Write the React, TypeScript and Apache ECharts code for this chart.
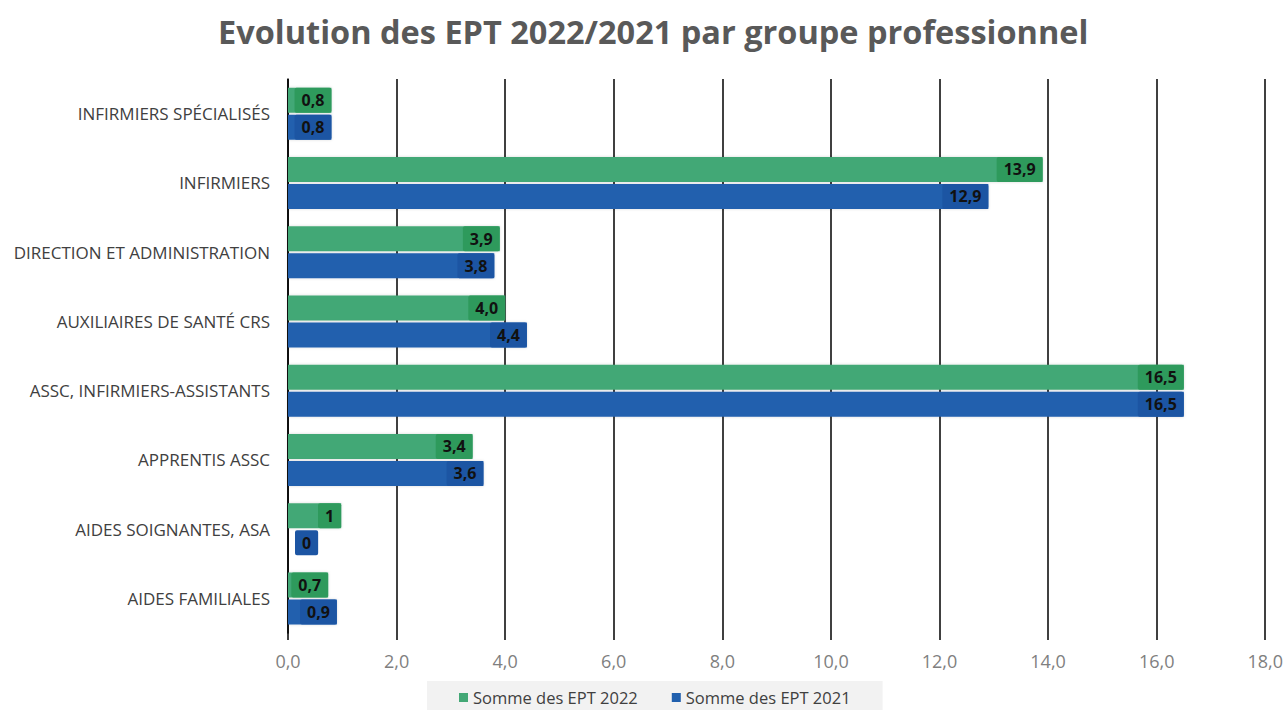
import React, { useEffect, useRef } from "react";
import * as echarts from "echarts";

const categories = [
  "INFIRMIERS SPÉCIALISÉS",
  "INFIRMIERS",
  "DIRECTION ET ADMINISTRATION",
  "AUXILIAIRES DE SANTÉ CRS",
  "ASSC, INFIRMIERS-ASSISTANTS",
  "APPRENTIS ASSC",
  "AIDES SOIGNANTES, ASA",
  "AIDES FAMILIALES",
];
const values2022 = [0.8, 13.9, 3.9, 4.0, 16.5, 3.4, 0.98, 0.74];
const labels2022 = ["0,8", "13,9", "3,9", "4,0", "16,5", "3,4", "1", "0,7"];
const values2021 = [0.8, 12.9, 3.8, 4.4, 16.5, 3.6, 0, 0.9];
const labels2021 = ["0,8", "12,9", "3,8", "4,4", "16,5", "3,6", "0", "0,9"];
const seriesNames = ["Somme des EPT 2022", "Somme des EPT 2021"];
const xTicks = { min: 0, max: 18, interval: 2 };

const FONT = "'Open Sans', sans-serif";

function makeSeries(name: string, vals: number[], labels: string[], color: string, labelBg: string) {
  return {
    name,
    type: "bar",
    barWidth: 25,
    barGap: "8%",
    data: vals.map((v, i) => ({
      value: v,
      label: {
        show: true,
        position: v === 0 ? "right" : "insideRight",
        distance: v === 0 ? 7 : 0,
        formatter: labels[i],
        backgroundColor: labelBg,
        color: "#111",
        fontFamily: FONT,
        fontSize: 16,
        fontWeight: "bold",
        lineHeight: 17,
        padding: [4, 7, 4, 7],
        borderRadius: 2,
      },
    })),
    itemStyle: { color, shadowColor: "rgba(0,0,0,0.15)", shadowBlur: 3 },
  };
}

export default function App() {
  const ref = useRef<HTMLDivElement>(null);
  useEffect(() => {
    if (!ref.current) return;
    const chart = echarts.init(ref.current, undefined, { renderer: "svg" });
    chart.setOption({
      animation: false,
      backgroundColor: "#ffffff",
      title: {
        text: "Evolution des EPT 2022/2021 par groupe professionnel",
        left: 213,
        top: 10,
        textStyle: { fontFamily: FONT, fontSize: 32.5, fontWeight: "bold", color: "#595959" },
      },
      legend: {
        top: 681,
        left: 427,
        data: seriesNames,
        icon: "rect",
        itemWidth: 9,
        itemHeight: 9,
        itemGap: 34,
        backgroundColor: "#f2f2f2",
        padding: [8, 32, 6, 32],
        textStyle: { fontFamily: FONT, fontSize: 16.5, color: "#404040" },
      },
      grid: { left: 288, right: 20, top: 79, bottom: 77 },
      xAxis: {
        type: "value",
        min: xTicks.min,
        max: xTicks.max,
        interval: xTicks.interval,
        axisLine: { show: false },
        axisTick: { show: true, length: 7, lineStyle: { color: "#000", width: 1.5 } },
        splitLine: { show: true, lineStyle: { color: "#000", width: 1.5 } },
        axisLabel: {
          margin: 19,
          fontFamily: FONT,
          fontSize: 18,
          color: "#7f7f7f",
          formatter: (v: number) => v.toFixed(1).replace(".", ","),
        },
      },
      yAxis: {
        type: "category",
        data: categories,
        inverse: true,
        axisLine: { show: true, lineStyle: { color: "#000", width: 1.5 } },
        axisTick: { show: false },
        axisLabel: { margin: 18, fontFamily: FONT, fontSize: 17, color: "#404040" },
      },
      series: [
        makeSeries(seriesNames[0], values2022, labels2022, "#43a876", "#2e9a5c"),
        makeSeries(seriesNames[1], values2021, labels2021, "#2160ae", "#1c55a3"),
      ],
    });
    return () => chart.dispose();
  }, []);
  return (
    <div
      ref={ref}
      style={{ position: "fixed", left: 0, top: 0, width: 1286, height: 710 }}
    />
  );
}
